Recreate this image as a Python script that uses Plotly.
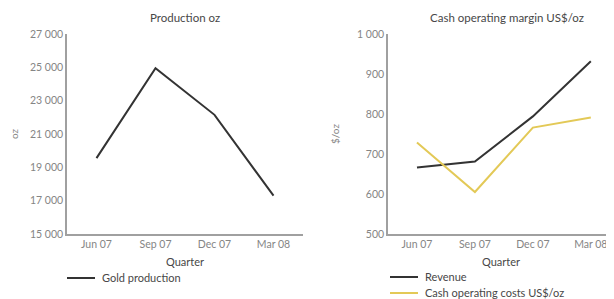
import plotly.graph_objects as go

quarters = ["Jun 07", "Sep 07", "Dec 07", "Mar 08"]
gold_production = [19550, 24950, 22150, 17300]
revenue = [666, 681, 794, 932]
cash_costs = [729, 605, 766, 791]

FONT = "Lato, 'Open Sans', sans-serif"
TICK = "#858585"
DARK = "#474747"
AX = "#a0a0a0"
BLACK = "#333333"
YELLOW = "#e3c957"

# page body has an 8px margin; size the figure so it fills the 614x299 window
OFF = 8
W, H = 614 - OFF, 299 - OFF
def px(x):
    return (x - OFF) / W
def py(y):
    return 1 - (y - OFF) / H

fig = go.Figure()
fig.add_trace(go.Scatter(x=quarters, y=gold_production, mode="lines", name="Gold production",
                         line=dict(color=BLACK, width=2), xaxis="x", yaxis="y"))
fig.add_trace(go.Scatter(x=quarters, y=revenue, mode="lines", name="Revenue",
                         line=dict(color=BLACK, width=2), xaxis="x2", yaxis="y2"))
fig.add_trace(go.Scatter(x=quarters, y=cash_costs, mode="lines", name="Cash operating costs US$/oz",
                         line=dict(color=YELLOW, width=2), xaxis="x2", yaxis="y2"))

ydom = [py(234), py(34)]
common_x = dict(showgrid=False, zeroline=False, showline=True, linecolor=AX, linewidth=1.5,
                ticks="", automargin=False, tickfont=dict(size=10.5, color=TICK, family=FONT),
                title=dict(text="Quarter", font=dict(size=11, color=DARK, family=FONT), standoff=9))
common_y = dict(showgrid=False, zeroline=False, showline=True, linecolor=AX, linewidth=1.5,
                ticks="", automargin=False, tickfont=dict(size=10.5, color=TICK, family=FONT),
                tickformat=",d")

annotations = [
    dict(text="Production oz", x=px(185), y=py(17), xref="paper", yref="paper",
         xanchor="center", yanchor="middle",
         showarrow=False, font=dict(size=11.5, color=DARK, family=FONT)),
    dict(text="Cash operating margin US$/oz", x=px(507), y=py(17), xref="paper", yref="paper",
         xanchor="center", yanchor="middle",
         showarrow=False, font=dict(size=11.5, color=DARK, family=FONT)),
]
shapes = []
legend_items = [
    ("Gold production", BLACK, 67, 95, 278),
    ("Revenue", BLACK, 390, 418, 277),
    ("Cash operating costs US$/oz", YELLOW, 390, 418, 293),
]
for label, color, x0, x1, y in legend_items:
    shapes.append(dict(type="line", xref="paper", yref="paper", x0=px(x0), x1=px(x1),
                       y0=py(y), y1=py(y), line=dict(color=color, width=2)))
    annotations.append(dict(text=label, x=px(x1 + 5), y=py(y - 1), xref="paper", yref="paper",
                            xanchor="left", yanchor="middle", showarrow=False,
                            font=dict(size=11, color=DARK, family=FONT)))

fig.update_layout(
    width=W, height=H,
    margin=dict(l=0, r=0, t=0, b=0),
    paper_bgcolor="white", plot_bgcolor="white",
    separators=". ",
    showlegend=False,
    font=dict(family=FONT, color=DARK, size=10),
    xaxis=dict(common_x, domain=[px(67), px(303)], range=[-0.5, 3.5], anchor="y"),
    yaxis=dict(common_y, domain=ydom, range=[15000, 27000], tick0=15000, dtick=2000, anchor="x",
               title=dict(text="oz", font=dict(size=10, color=TICK, family=FONT), standoff=10)),
    xaxis2=dict(common_x, domain=[px(388), 1.0], range=[-0.5, 3.4], anchor="y2"),
    yaxis2=dict(common_y, domain=ydom, range=[500, 1000], tick0=500, dtick=100, anchor="x2",
                title=dict(text="$/oz", font=dict(size=10, color=TICK, family=FONT), standoff=16)),
    annotations=annotations,
    shapes=shapes,
)

fig.write_html("out.html")
